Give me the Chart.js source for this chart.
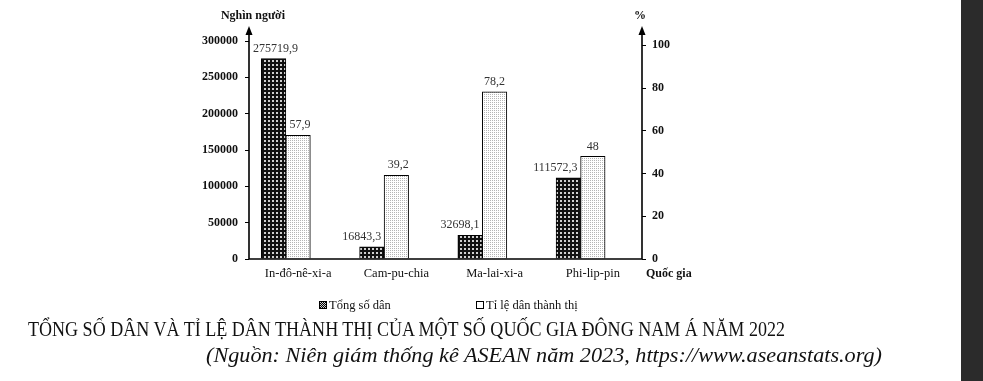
<!DOCTYPE html>
<html>
<head>
<meta charset="utf-8">
<script src="https://cdn.jsdelivr.net/npm/chart.js@4.4.1/dist/chart.umd.min.js"></script>
<style>
  body { margin: 0; background: #fff; }
  #wrap { position: relative; width: 983px; height: 381px; overflow: hidden; background: #fff; }
  #chart { position: absolute; left: 0; top: 0; }
  .txt { position: absolute; white-space: nowrap; font-family: "Liberation Serif", serif; color: #111; transform-origin: left top; }
  .box { display: inline-block; width: 6px; height: 6px; border: 1px solid #000; margin-right: 2px; vertical-align: 0px; }
  #strip { position: absolute; left: 961px; top: 0; width: 22px; height: 381px; background: #2b2b2b; }
</style>
</head>
<body>
<div id="wrap">
  <canvas id="chart" width="983" height="381"></canvas>
  <div class="txt" id="leg1" style="left:319px; top:298px; font-size:12.5px;"><span class="box" style="background:repeating-conic-gradient(#000 0 25%, #ccc 0 50%) 0 0/2px 2px;"></span>Tổng số dân</div>
  <div class="txt" id="leg2" style="left:476px; top:298px; font-size:12.5px;"><span class="box" style="background:#fff;"></span>Tỉ lệ dân thành thị</div>
  <div class="txt" id="title" style="left:28px; top:316px; font-size:22px;">TỔNG SỐ DÂN VÀ TỈ LỆ DÂN THÀNH THỊ CỦA MỘT SỐ QUỐC GIA ĐÔNG NAM Á NĂM 2022</div>
  <div class="txt" id="source" style="left:206px; top:344px; font-size:20px; font-style:italic;">(Nguồn: Niên giám thống kê ASEAN năm 2023, https://www.aseanstats.org)</div>
  <div id="strip"></div>
</div>
<script>
// data
const categories = ['In-đô-nê-xi-a', 'Cam-pu-chia', 'Ma-lai-xi-a', 'Phi-lip-pin'];
const population = [275719.9, 16843.3, 32698.1, 111572.3];   // nghìn người
const urbanRate = [57.9, 39.2, 78.2, 48];                      // %
const popTicks = [0, 50000, 100000, 150000, 200000, 250000, 300000];
const rateTicks = [0, 20, 40, 60, 80, 100];

// squeeze the caption lines to the width they have in the picture
function fit(id, width) {
    const el = document.getElementById(id);
    const w = el.getBoundingClientRect().width;
    el.style.transform = 'scaleX(' + (width / w) + ')';
}
fit('title', 757);
fit('source', 676);

// fill patterns
function pattern(size, bg, fg, cells) {
    const c = document.createElement('canvas');
    c.width = size; c.height = size;
    const g = c.getContext('2d');
    g.fillStyle = bg; g.fillRect(0, 0, size, size);
    g.fillStyle = fg;
    cells.forEach(p => g.fillRect(p[0], p[1], p[2], p[3]));
    return g.createPattern(c, 'repeat');
}
const ctx0 = document.getElementById('chart').getContext('2d');
const darkFill = pattern(4, '#111', '#d0d0d0', [[0, 0, 2, 2]]);
const lightFill = pattern(2, '#fff', '#b5b5b5', [[0, 0, 1, 1]]);

const fmt = v => String(v).replace('.', ',');
const serif = '"Liberation Serif", serif';
const labelDx = [[2, -10, -10, -13], [2, 2, 0, 0]];

// axes with arrows, value labels, axis titles
const decor = {
    id: 'decor',
    afterDatasetsDraw(chart) {
        const c = chart.ctx;
        c.save();
        c.font = '12px ' + serif;
        c.fillStyle = '#333';
        c.textAlign = 'center';
        c.textBaseline = 'bottom';
        chart.data.datasets.forEach((ds, di) => {
            chart.getDatasetMeta(di).data.forEach((bar, i) => {
                const v = di === 0 ? population[i] : urbanRate[i];
                c.fillText(fmt(v), bar.x + labelDx[di][i], bar.y - 4);
            });
        });
        c.restore();
    },
    afterDraw(chart) {
        const a = chart.chartArea;
        const c = chart.ctx;
        c.save();
        c.strokeStyle = '#000';
        c.fillStyle = '#000';
        c.lineWidth = 1.6;
        c.beginPath();
        c.moveTo(a.left, a.bottom); c.lineTo(a.right, a.bottom);
        c.moveTo(a.left, a.bottom); c.lineTo(a.left, 32);
        c.moveTo(a.right, a.bottom); c.lineTo(a.right, 32);
        c.stroke();
        [a.left, a.right].forEach(x => {
            c.beginPath();
            c.moveTo(x, 26); c.lineTo(x - 3.5, 35); c.lineTo(x + 3.5, 35);
            c.closePath(); c.fill();
        });
        c.font = 'bold 12px ' + serif;
        c.fillStyle = '#111';
        c.textBaseline = 'middle';
        c.textAlign = 'center';
        c.fillText('Nghìn người', 253, 16);
        c.fillText('%', 640, 16);
        c.textAlign = 'left';
        c.fillText('Quốc gia', 646, 274);
        c.restore();
    }
};

new Chart(document.getElementById('chart'), {
    type: 'bar',
    data: {
        datasets: [
            {
                label: 'Tổng số dân',
                data: population.map((v, i) => ({ x: i, y: v })),
                yAxisID: 'y',
                backgroundColor: darkFill,
                borderColor: '#000',
                borderWidth: 1,
                barThickness: 24.5
            },
            {
                label: 'Tỉ lệ dân thành thị',
                data: urbanRate.map((v, i) => ({ x: i, y: v })),
                yAxisID: 'y1',
                backgroundColor: lightFill,
                borderColor: '#000',
                borderWidth: 1,
                barThickness: 24.5
            }
        ]
    },
    options: {
        responsive: false,
        animation: false,
        layout: { padding: { top: 41, left: 0, right: 0, bottom: 0 } },
        plugins: { legend: { display: false }, tooltip: { enabled: false } },
        scales: {
            x: {
                type: 'linear',
                offset: false,
                bounds: 'ticks',
                min: -0.375,
                max: 3.625,
                afterFit: s => { s.height = 122; },
                afterBuildTicks: s => { s.ticks = categories.map((c, i) => ({ value: i + 0.125 })); },
                grid: { display: false, drawTicks: false, offset: false },
                border: { display: false },
                ticks: {
                    autoSkip: false, maxRotation: 0, padding: 7,
                    color: '#111',
                    font: { family: serif, size: 12.5 },
                    callback: v => categories[Math.round(v - 0.125)]
                }
            },
            y: {
                position: 'left',
                min: 0,
                max: 300000,
                afterFit: s => { s.width = 249; },
                afterBuildTicks: s => { s.ticks = popTicks.map(v => ({ value: v })); },
                grid: { drawOnChartArea: false, drawTicks: true, tickLength: 4, color: '#000' },
                border: { display: false },
                ticks: { padding: 7, color: '#111', font: { family: serif, size: 12, weight: 'bold' }, callback: v => String(v) }
            },
            y1: {
                position: 'right',
                min: 0,
                max: 102,
                afterFit: s => { s.width = 341; },
                afterBuildTicks: s => { s.ticks = rateTicks.map(v => ({ value: v })); },
                grid: { drawOnChartArea: false, drawTicks: true, tickLength: 4, color: '#000' },
                border: { display: false },
                ticks: { padding: 6, color: '#111', font: { family: serif, size: 12, weight: 'bold' }, callback: v => String(v) }
            }
        }
    },
    plugins: [decor]
});
</script>
</body>
</html>
